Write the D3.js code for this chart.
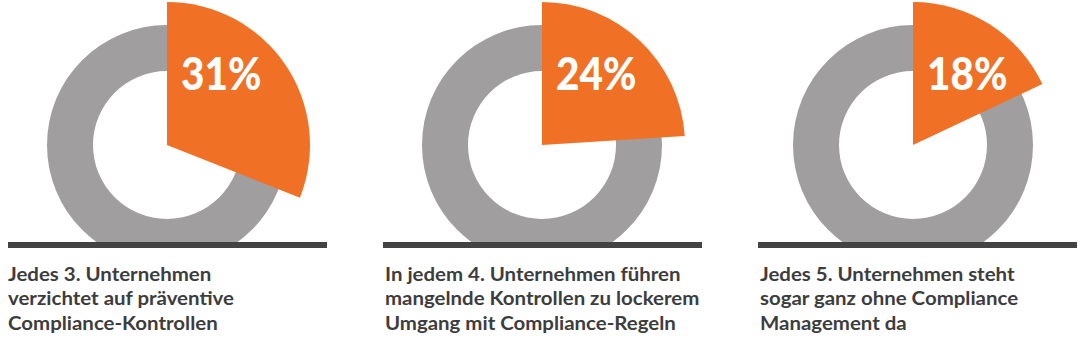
<!DOCTYPE html>
<html>
<head>
<meta charset="utf-8">
<script src="https://cdn.jsdelivr.net/npm/d3@7"></script>
<style>
  html, body { margin: 0; padding: 0; background: #ffffff; }
  svg { display: block; }
</style>
</head>
<body>
<svg id="chart" width="1080" height="342"></svg>
<script>
// ---- data ----
const percentages = [31, 24, 18];
const percentLabels = ["31%", "24%", "18%"];
const captions = [
  ["Jedes 3. Unternehmen", "verzichtet auf präventive", "Compliance-Kontrollen"],
  ["In jedem 4. Unternehmen führen", "mangelnde Kontrollen zu lockerem", "Umgang mit Compliance-Regeln"],
  ["Jedes 5. Unternehmen steht", "sogar ganz ohne Compliance", "Management da"]
];

// ---- layout ----
const centerX = i => [167, 542, 913][i];
const panelX0 = i => 8 + i * 375;
const centerY = 145;
const ringInner = 74, ringOuter = 120, sliceOuter = 143;
const lineY = 242, lineH = 6;
const angle = d3.scaleLinear().domain([0, 100]).range([0, 2 * Math.PI]);

const svg = d3.select("#chart");
const defs = svg.append("defs");

const ringArc = d3.arc().innerRadius(ringInner).outerRadius(ringOuter).startAngle(0).endAngle(2 * Math.PI);
const sliceArc = d3.arc().innerRadius(0).outerRadius(sliceOuter).startAngle(0);

percentages.forEach((v, i) => {
  const cx = centerX(i);
  const lineX0 = panelX0(i);
  defs.append("clipPath").attr("id", "clip" + i)
    .append("rect").attr("x", cx - 200).attr("y", 0).attr("width", 400).attr("height", lineY);

  const g = svg.append("g").attr("clip-path", `url(#clip${i})`)
    .append("g").attr("transform", `translate(${cx},${centerY})`);

  g.append("path").attr("d", ringArc()).attr("fill", "#a09e9f");
  g.append("path").attr("d", sliceArc({ endAngle: angle(v) })).attr("fill", "#f07126");

  svg.append("text")
    .attr("transform", `translate(${cx + 14},90) scale(0.88,1)`)
    .attr("font-family", "Lato, 'Open Sans', sans-serif")
    .attr("font-weight", 900)
    .attr("font-size", 46)
    .attr("fill", "#ffffff")
    .text(percentLabels[i]);

  svg.append("rect")
    .attr("x", lineX0).attr("y", lineY)
    .attr("width", 319).attr("height", lineH)
    .attr("fill", "#434343");

  const t = svg.append("text")
    .attr("transform", `translate(${lineX0 + (i ? 2 : 0)},0) scale(1.135,1)`)
    .attr("font-family", "Lato, 'Open Sans', sans-serif")
    .attr("font-weight", 700)
    .attr("font-size", 18)
    .attr("fill", "#3d3d3d");
  captions[i].forEach((line, k) => {
    t.append("tspan").attr("x", 0).attr("y", 281 + k * 24.5).text(line);
  });
});
</script>
</body>
</html>
